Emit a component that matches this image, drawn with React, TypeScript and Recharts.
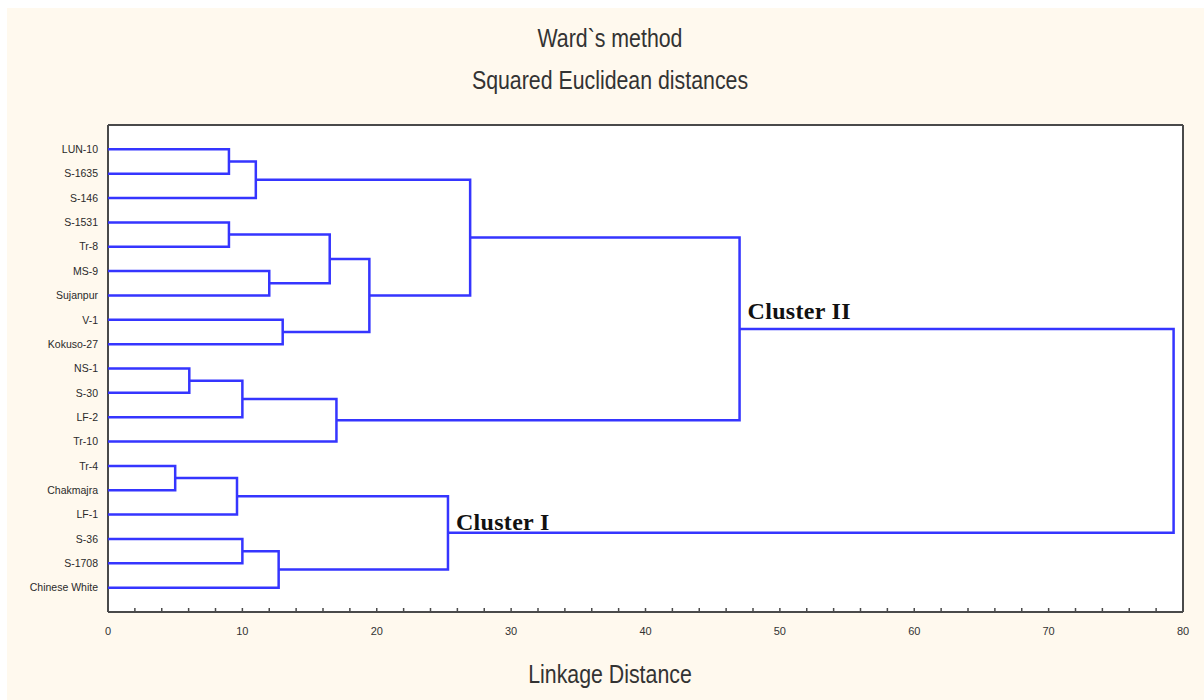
import React from 'react';
import { ComposedChart, Scatter, XAxis, YAxis, CartesianGrid, ReferenceDot } from 'recharts';

// Leaves, top to bottom
const leafLabels = [
  'LUN-10', 'S-1635', 'S-146', 'S-1531', 'Tr-8', 'MS-9', 'Sujanpur', 'V-1', 'Kokuso-27',
  'NS-1', 'S-30', 'LF-2', 'Tr-10', 'Tr-4', 'Chakmajra', 'LF-1', 'S-36', 'S-1708', 'Chinese White',
];

// Merges: child ids (0..18 = leaves, 19 + k = k-th merge)
const mergeLeft = [0, 19, 3, 5, 21, 7, 23, 20, 9, 27, 28, 26, 13, 31, 16, 33, 32, 30];
const mergeRight = [1, 2, 4, 6, 22, 8, 24, 25, 10, 11, 12, 29, 14, 15, 17, 18, 34, 35];
const mergeHeights = [9.0, 11.0, 9.0, 12.0, 16.5, 13.0, 19.45, 26.95, 6.05, 10.0, 17.0, 47.0, 5.0, 9.6, 10.0, 12.7, 25.3, 79.3];

const xTicks = [0, 2, 4, 6, 8, 10, 12, 14, 16, 18, 20, 22, 24, 26, 28, 30, 32, 34, 36, 38, 40, 42, 44, 46, 48, 50, 52, 54, 56, 58, 60, 62, 64, 66, 68, 70, 72, 74, 76, 78, 80];
const gridTicks = [10, 20, 30, 40, 50, 60, 70];
const leafTicks = [1, 2, 3, 4, 5, 6, 7, 8, 9, 10, 11, 12, 13, 14, 15, 16, 17, 18, 19];

const clusterNames = ['Cluster II', 'Cluster I'];
const clusterMerges = [11, 16];

const BLUE = '#3535ff';
const FRAME = '#4a4a4a';
const SANS = "'Liberation Sans', Arial, sans-serif";

// node positions
const nodes: { x: number; y: number }[] = leafLabels.map((_, i) => ({ x: 0, y: i + 1 }));
mergeHeights.forEach((h, k) => {
  const a = nodes[mergeLeft[k]];
  const b = nodes[mergeRight[k]];
  nodes.push({ x: h, y: (a.y + b.y) / 2 });
});
const links = mergeHeights.map((h, k) => {
  const a = nodes[mergeLeft[k]];
  const b = nodes[mergeRight[k]];
  return [
    { x: a.x, y: a.y },
    { x: h, y: a.y },
    { x: h, y: b.y },
    { x: b.x, y: b.y },
  ];
});

const labelOffsets = [
  { dx: 8, dy: -10 },
  { dx: 8, dy: -3 },
];

const noShape = () => null;

const titleStyle: React.CSSProperties = {
  position: 'absolute',
  left: 360,
  width: 500,
  textAlign: 'center',
  fontFamily: SANS,
  fontSize: 26,
  lineHeight: '26px',
  color: '#333',
  transform: 'scaleX(0.82)',
  transformOrigin: '50% 50%',
  whiteSpace: 'nowrap',
};

export default function App() {
  return (
    <div style={{ position: 'absolute', left: 0, top: 0, width: 1204, height: 700, background: '#ffffff', overflow: 'hidden' }}>
      <div style={{ position: 'absolute', left: 7, top: 8, width: 1197, height: 692, background: '#fff9ee' }}>
        <ComposedChart width={1197} height={692} margin={{ top: 107, right: 0, bottom: 58, left: 0 }}>
          <CartesianGrid xAxisId="top" horizontal={false} stroke="#c4c4c4" strokeDasharray="2 2" fill="#ffffff" />
          <XAxis
            dataKey="x"
            type="number"
            domain={[0, 80]}
            ticks={xTicks}
            interval={0}
            allowDataOverflow
            tickFormatter={(v: number) => (v % 10 === 0 ? String(v) : '')}
            tickSize={-4}
            tickMargin={19}
            height={30}
            axisLine={{ stroke: FRAME, strokeWidth: 2 }}
            tickLine={{ stroke: FRAME, strokeWidth: 1.5 }}
            tick={{ fontSize: 11, fill: '#333', fontFamily: SANS }}
          />
          <XAxis
            xAxisId="top"
            orientation="top"
            type="number"
            domain={[0, 80]}
            ticks={gridTicks}
            allowDataOverflow
            height={10}
            tick={false}
            tickLine={false}
            axisLine={{ stroke: FRAME, strokeWidth: 2 }}
          />
          <YAxis
            dataKey="y"
            type="number"
            domain={[0, 20]}
            reversed
            ticks={leafTicks}
            interval={0}
            allowDataOverflow
            tickFormatter={(v: number) => leafLabels[v - 1] ?? ''}
            width={101}
            tickSize={0}
            tickMargin={10}
            tickLine={false}
            axisLine={{ stroke: FRAME, strokeWidth: 2 }}
            tick={{ fontSize: 10.5, fill: '#2a2a2a', fontFamily: SANS }}
          />
          <YAxis
            yAxisId="right"
            orientation="right"
            type="number"
            domain={[0, 20]}
            reversed
            ticks={leafTicks}
            interval={0}
            allowDataOverflow
            width={21}
            tick={false}
            tickSize={-3}
            tickLine={{ stroke: FRAME, strokeWidth: 1.5 }}
            axisLine={{ stroke: FRAME, strokeWidth: 2 }}
          />
          {links.map((pts, k) => (
            <Scatter
              key={k}
              data={pts}
              line={{ stroke: BLUE, strokeWidth: 2.5 }}
              shape={noShape}
              fill={BLUE}
              isAnimationActive={false}
            />
          ))}
          {clusterMerges.map((m, i) => {
            const node = nodes[leafLabels.length + m];
            const off = labelOffsets[i];
            return (
              <ReferenceDot
                key={i}
                x={node.x}
                y={node.y}
                r={0}
                fill="none"
                stroke="none"
                ifOverflow="visible"
                label={(p: any) => (
                  <text
                    x={p.viewBox.x + off.dx}
                    y={p.viewBox.y + off.dy}
                    fontFamily="'Liberation Serif', 'Times New Roman', serif"
                    fontWeight="bold"
                    fontSize={24}
                    letterSpacing={0.3}
                    fill="#111"
                  >
                    {clusterNames[i]}
                  </text>
                )}
              />
            );
          })}
        </ComposedChart>
      </div>
      <div style={{ ...titleStyle, top: 25 }}>Ward`s method</div>
      <div style={{ ...titleStyle, top: 67 }}>Squared Euclidean distances</div>
      <div style={{ ...titleStyle, top: 661 }}>Linkage Distance</div>
    </div>
  );
}
